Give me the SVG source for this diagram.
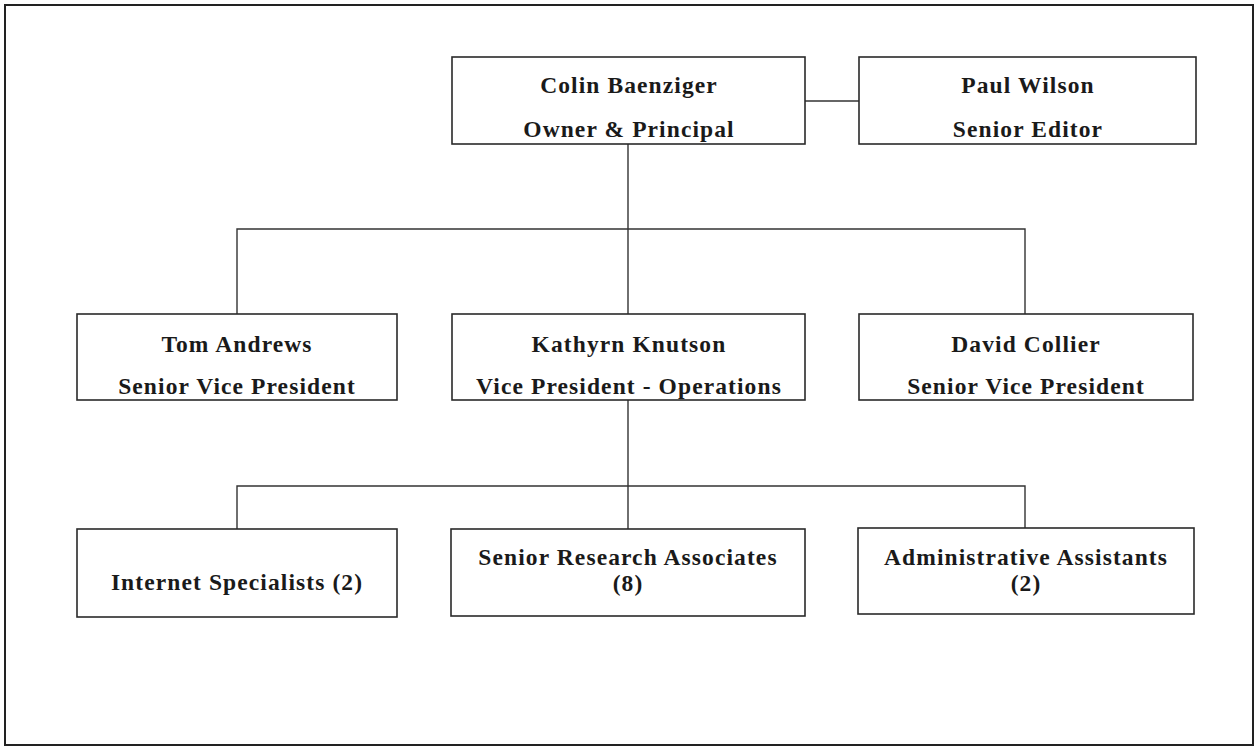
<svg xmlns="http://www.w3.org/2000/svg" width="1257" height="748" viewBox="0 0 1257 748">
<style>
.box{fill:#ffffff;stroke:#2a2a2a;stroke-width:1.6}
.t{font-family:"Liberation Serif","Times New Roman",serif;font-size:23.5px;font-weight:bold;fill:#1a1a1a;text-anchor:middle;letter-spacing:1.1px}
.c{fill:none;stroke:#333;stroke-width:1.4}
</style>
<rect x="0" y="0" width="1257" height="748" fill="#ffffff"/>
<rect x="5" y="5" width="1248" height="740" fill="none" stroke="#222" stroke-width="2"/>
<g id="connectors">
<line class="c" x1="805" y1="101" x2="859" y2="101"/>
<line class="c" x1="628" y1="144" x2="628" y2="314"/>
<polyline class="c" points="237,314 237,229 1025,229 1025,314"/>
<line class="c" x1="628" y1="400" x2="628" y2="529"/>
<polyline class="c" points="237,529 237,486 1025,486 1025,528"/>
</g>
<g id="colin"><rect class="box" x="452" y="57" width="353" height="87"/><text class="t" x="629" y="93">Colin Baenziger</text><text class="t" x="629" y="137">Owner &amp; Principal</text></g>
<g id="paul"><rect class="box" x="859" y="57" width="337" height="87"/><text class="t" x="1028" y="93">Paul Wilson</text><text class="t" x="1028" y="137">Senior Editor</text></g>
<g id="tom"><rect class="box" x="77" y="314" width="320" height="86"/><text class="t" x="237" y="352">Tom Andrews</text><text class="t" x="237" y="394">Senior Vice President</text></g>
<g id="kathyrn"><rect class="box" x="452" y="314" width="353" height="86"/><text class="t" x="629" y="352">Kathyrn Knutson</text><text class="t" x="629" y="394">Vice President - Operations</text></g>
<g id="david"><rect class="box" x="859" y="314" width="334" height="86"/><text class="t" x="1026" y="352">David Collier</text><text class="t" x="1026" y="394">Senior Vice President</text></g>
<g id="internet"><rect class="box" x="77" y="529" width="320" height="88"/><text class="t" x="237" y="590">Internet Specialists (2)</text></g>
<g id="senior-research"><rect class="box" x="451" y="529" width="354" height="87"/><text class="t" x="628" y="565">Senior Research Associates</text><text class="t" x="628" y="591">(8)</text></g>
<g id="admin"><rect class="box" x="858" y="528" width="336" height="86"/><text class="t" x="1026" y="565">Administrative Assistants</text><text class="t" x="1026" y="591">(2)</text></g>
</svg>
